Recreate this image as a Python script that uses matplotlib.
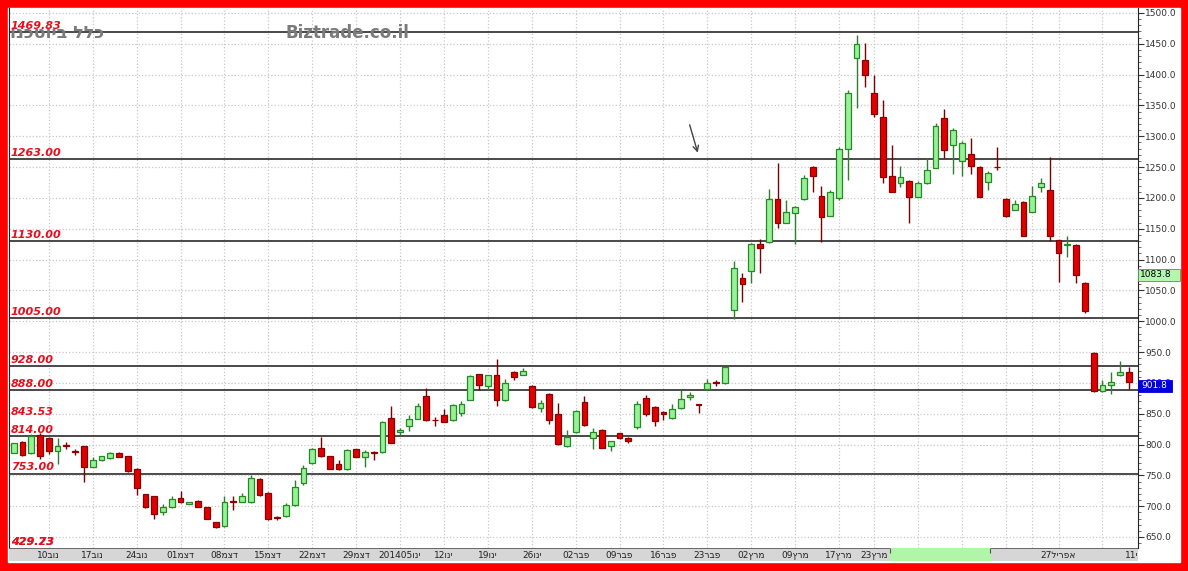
import matplotlib
matplotlib.use("Agg")
import matplotlib.pyplot as plt
from matplotlib.patches import Rectangle
from matplotlib.ticker import MultipleLocator, FormatStrFormatter

# daily candles, Nov 2013 - May 2014
opens = [787, 804, 786, 816, 811, 789, 799, 789, 797, 764, 775, 778, 787, 781, 761, 720,
         716, 691, 698, 713, 704, 709, 698, 674, 668, 708, 707, 706, 744, 722, 682, 684,
         702, 737, 770, 794, 781, 769, 760, 792, 780, 788, 788, 843, 820, 830, 842, 879,
         840, 848, 839, 851, 873, 914, 895, 912, 872, 918, 913, 895, 859, 882, 849, 797,
         820, 869, 810, 824, 797, 818, 811, 828, 876, 861, 853, 843, 859, 877, 865, 890,
         901, 899, 1018, 1070, 1082, 1125, 1128, 1199, 1160, 1175, 1198, 1251, 1203, 1171, 1200, 1280,
         1427, 1423, 1371, 1331, 1236, 1224, 1228, 1202, 1224, 1249, 1330, 1286, 1260, 1271, 1251, 1226,
         1251, 1199, 1181, 1194, 1178, 1217, 1213, 1131, 1124, 1124, 1062, 949, 887, 896, 912, 918]
highs = [803, 805, 817, 818, 812, 810, 804, 793, 797, 780, 782, 788, 788, 781, 762, 720,
         717, 704, 716, 725, 707, 710, 699, 675, 716, 716, 722, 750, 745, 723, 684, 705,
         742, 767, 795, 813, 782, 775, 793, 793, 791, 789, 838, 862, 827, 848, 868, 892,
         845, 858, 866, 870, 912, 915, 913, 939, 907, 919, 924, 896, 873, 883, 868, 823,
         856, 879, 827, 825, 806, 819, 812, 871, 881, 862, 854, 866, 889, 886, 866, 907,
         905, 926, 1098, 1078, 1127, 1134, 1215, 1256, 1197, 1187, 1237, 1252, 1219, 1213, 1282, 1375,
         1464, 1452, 1399, 1359, 1286, 1252, 1229, 1227, 1265, 1321, 1345, 1314, 1292, 1297, 1252, 1244,
         1282, 1200, 1196, 1195, 1219, 1232, 1266, 1132, 1138, 1125, 1063, 950, 905, 917, 936, 926]
lows = [786, 782, 785, 776, 785, 769, 793, 783, 740, 763, 774, 776, 779, 756, 718, 697,
        679, 686, 697, 705, 703, 698, 679, 664, 667, 694, 706, 705, 716, 677, 678, 683,
        701, 735, 769, 780, 760, 759, 758, 779, 764, 775, 787, 802, 815, 822, 841, 838,
        830, 836, 838, 846, 872, 889, 889, 862, 871, 905, 912, 860, 853, 833, 800, 796,
        819, 830, 793, 794, 789, 809, 803, 826, 847, 830, 839, 842, 858, 873, 851, 889,
        895, 898, 1003, 1032, 1062, 1078, 1127, 1152, 1159, 1125, 1197, 1209, 1129, 1170, 1196, 1229,
        1346, 1380, 1331, 1224, 1209, 1218, 1160, 1201, 1223, 1248, 1264, 1239, 1236, 1239, 1201, 1213,
        1245, 1169, 1180, 1138, 1177, 1210, 1130, 1063, 1105, 1062, 1013, 886, 886, 882, 911, 890]
closes = [802, 783, 814, 782, 789, 798, 798, 788, 764, 775, 781, 787, 780, 757, 729, 699,
          688, 698, 712, 706, 706, 699, 680, 667, 707, 707, 716, 745, 718, 679, 681, 702,
          731, 762, 793, 782, 761, 760, 791, 780, 788, 786, 837, 803, 823, 842, 862, 839,
          839, 837, 864, 866, 911, 897, 912, 872, 900, 910, 920, 861, 868, 839, 801, 812,
          855, 831, 821, 795, 805, 810, 806, 865, 849, 838, 849, 858, 874, 880, 864, 900,
          900, 925, 1086, 1060, 1125, 1119, 1198, 1159, 1177, 1185, 1232, 1236, 1169, 1209, 1279, 1371,
          1449, 1399, 1336, 1234, 1210, 1234, 1202, 1225, 1245, 1317, 1278, 1310, 1289, 1252, 1202, 1241,
          1250, 1170, 1190, 1139, 1203, 1225, 1139, 1110, 1125, 1075, 1017, 887, 896, 901, 918, 901]

# horizontal levels drawn on the chart
levels = [1469.83, 1263.00, 1130.00, 1005.00, 928.00, 888.00, 814.00, 753.00]
label_only = [843.53]

# week labels (candle index, text in visual order)
tick_pos = [4, 9, 14, 19, 24, 29, 34, 39, 44, 49, 54, 59, 64, 69, 74, 79, 84, 89, 94, 98, 119, 128]
tick_txt = ["10בונ", "17בונ", "24בונ", "01מצד", "08מצד", "15מצד", "22מצד", "29מצד",
            "201405וני", "12וני", "19וני", "26וני", "02רבפ", "09רבפ", "16רבפ", "23רבפ",
            "02ץרמ", "09ץרמ", "17ץרמ", "23ץרמ", "27לירפא", "11יאמ"]
grid_x = list(range(4, 95, 5)) + [98, 103, 108, 113, 116, 119, 124]

W, H = 1188, 571
fig = plt.figure(figsize=(W / 100, H / 100), dpi=100)
fig.patch.set_facecolor("#ff0000")
fig.add_artist(Rectangle((8 / W, 1 - 562 / H), 1172 / W, 554 / H,
                         transform=fig.transFigure, color="white", zorder=0))


def px_axes(x0, y0, x1, y1):
    return fig.add_axes([x0 / W, 1 - y1 / H, (x1 - x0) / W, (y1 - y0) / H])


# pixel -> value mapping of the price scale
def pv(p):
    return 1500 - (p - 13) * 850 / 524


def pi(q):
    return (q - 13.7) / 8.78


ax = px_axes(9, 8, 1138, 548)
ax.set_xlim(pi(9), pi(1138))
ax.set_ylim(pv(548), pv(8))
ax.patch.set_alpha(0)

ax.yaxis.tick_right()
ax.yaxis.set_major_locator(MultipleLocator(50))
ax.yaxis.set_minor_locator(MultipleLocator(10))
ax.yaxis.set_major_formatter(FormatStrFormatter("%.1f"))
ax.tick_params(axis="y", which="major", length=4, width=0.8, labelsize=6.5,
               colors="#333333", pad=1)
ax.tick_params(axis="y", which="minor", length=2, width=0.6, colors="#555555")
ax.set_xticks([])
for s in ["top", "bottom"]:
    ax.spines[s].set_visible(False)
ax.spines["right"].set_color("#222222")
ax.spines["left"].set_color("#222222")

# grid
ax.grid(axis="y", color="#c8c8c8", linestyle=":", linewidth=0.9)
for gx in grid_x:
    ax.axvline(gx, color="#c8c8c8", linestyle=":", linewidth=0.9, zorder=0)

# level lines and labels
red_txt = "#e3101e"
for lv in levels:
    ax.axhline(lv, color="#3a3a3a", linewidth=1.3, zorder=1)
for lv in levels + label_only:
    ax.annotate(f"{lv:.2f}", xy=(pi(11), lv), xytext=(0, 2.2), textcoords="offset points",
                fontsize=8, color=red_txt, fontweight="bold", style="italic",
                va="baseline", ha="left", zorder=5)
for t in ["429.73", "429.23"]:
    ax.text(pi(11), 0.005, t, transform=ax.get_xaxis_transform(), fontsize=8,
            color=red_txt, fontweight="bold", style="italic", va="baseline", ha="left")

# candles
for i, (o, h, l, c) in enumerate(zip(opens, highs, lows, closes)):
    up = c >= o
    wick = "#2f7d2f" if up else "#7a0000"
    fill = "#98f098" if up else "#e00000"
    edge = "#228b22" if up else "#8b0000"
    ax.vlines(i, l, h, color=wick, linewidth=1, zorder=3)
    ax.bar(i, max(abs(c - o), 0.01), bottom=min(o, c), width=0.66,
           color=fill, edgecolor=edge, linewidth=0.9, zorder=4)

# arrow
ax.annotate("", xy=(78.0, 1269), xytext=(76.9, 1323),
            arrowprops=dict(arrowstyle="->", color="#444444", lw=1))

# header texts
ax.text(pi(10), pv(33), "ונכטויב ללכ", fontsize=12.5, fontweight="bold", color="#7a7a7a",
        va="center", ha="left")
ax.text(pi(285), pv(33), "Biztrade.co.il", fontsize=12, fontweight="bold", color="#7a7a7a",
        va="center", ha="left")

# last-price boxes on the price scale (pixel placed)
fig.add_artist(Rectangle((1138 / W, 1 - 281 / H), 42 / W, 12 / H, transform=fig.transFigure,
                         fc="#b4f5b0", ec="#40a040", lw=0.6, zorder=5))
fig.text(1140 / W, 1 - 275 / H, "1083.8", fontsize=6.5, color="black", va="center",
         ha="left", zorder=6)
fig.add_artist(Rectangle((1138 / W, 1 - 392 / H), 34 / W, 12 / H, transform=fig.transFigure,
                         fc="#0000dd", ec="#0000dd", lw=0.6, zorder=5))
fig.text(1141 / W, 1 - 386 / H, "901.8", fontsize=6.5, color="white", va="center",
         ha="left", zorder=6)

# date strip
sx = px_axes(9, 548, 1138, 561)
sx.set_xlim(pi(9), pi(1138))
sx.set_ylim(0, 1)
sx.set_facecolor("#d6d6d6")
sx.set_xticks([])
sx.set_yticks([])
for s in sx.spines.values():
    s.set_visible(False)
sx.axhline(1, color="#555555", linewidth=1.2)
sx.add_patch(Rectangle((pi(890), 0), pi(990) - pi(890), 1, color="#b0f5a8", zorder=2))
sx.vlines([pi(890), pi(990)], 0.6, 1, color="#555555", linewidth=0.8, zorder=3)
for p, t in zip(tick_pos, tick_txt):
    sx.text(p, 0.45, t, fontsize=6.5, color="#222222", ha="center", va="center",
            clip_on=True, zorder=1)

fig.savefig("out.png", dpi=100, facecolor=fig.get_facecolor())
